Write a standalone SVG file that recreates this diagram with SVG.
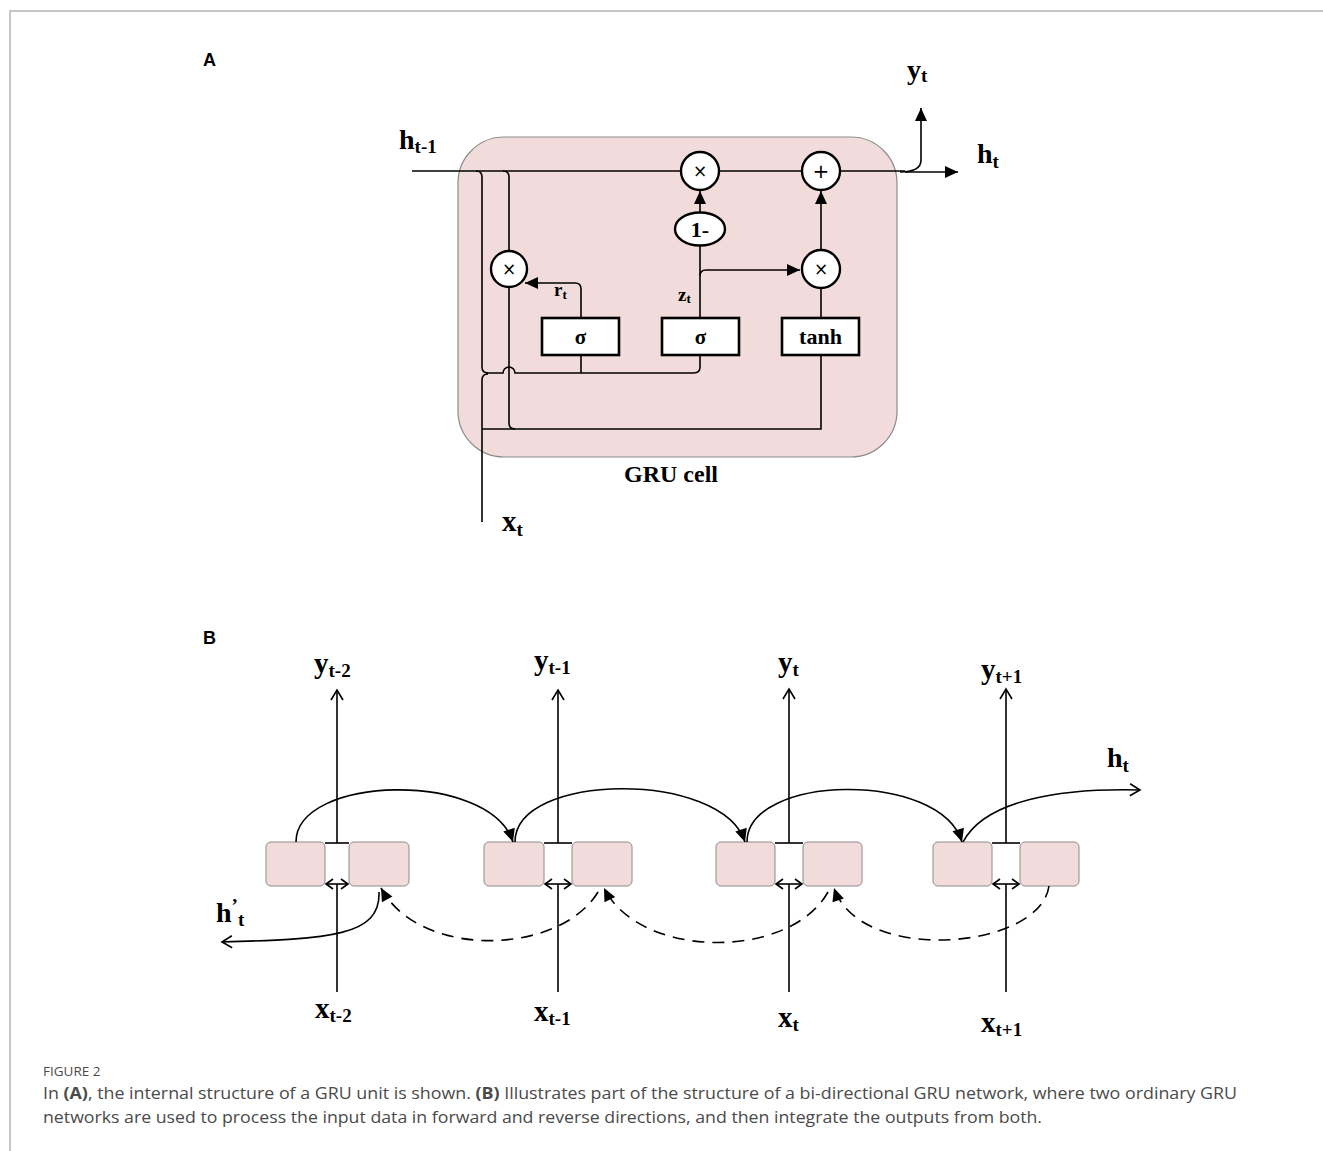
<svg xmlns="http://www.w3.org/2000/svg" width="1323" height="1151" viewBox="0 0 1323 1151">
  <style>
    .ln { fill: none; stroke: #000; stroke-width: 1.6; }
    .dash { fill: none; stroke: #000; stroke-width: 1.6; stroke-dasharray: 12 8; }
    .cell { fill: #f2dcdb; stroke: #8c8c8c; stroke-width: 1.2; }
    .box { fill: #fff; stroke: #000; stroke-width: 2.6; }
    .op { fill: #fff; stroke: #000; stroke-width: 2.4; }
    .bi { fill: #f2dcdb; stroke: #8c8c8c; stroke-width: 1; }
    .lab { font-family: "Liberation Serif", "Times New Roman", serif; font-weight: bold; fill: #000; }
    .sym { font-family: "DejaVu Sans", sans-serif; fill: #000; text-anchor: middle; }
    .panel { font-family: "Liberation Sans", Arial, sans-serif; font-weight: bold; font-size: 18px; fill: #000; }
    .cap { font-family: "Open Sans", "Liberation Sans", sans-serif; fill: #4a4a4a; }
  </style>
  <defs>
    <marker id="fill" markerUnits="userSpaceOnUse" markerWidth="16" markerHeight="16" viewBox="-14 -8 16 16" refX="0" refY="0" orient="auto">
      <path d="M-13,-6 L0,0 L-13,6 Z" fill="#000"/>
    </marker>
    <marker id="open" markerUnits="userSpaceOnUse" markerWidth="16" markerHeight="16" viewBox="-14 -8 16 16" refX="0" refY="0" orient="auto">
      <path d="M-10,-6 L0,0 L-10,6" fill="none" stroke="#000" stroke-width="1.6"/>
    </marker>
    <marker id="openS" markerUnits="userSpaceOnUse" markerWidth="12" markerHeight="12" viewBox="-10 -6 12 12" refX="0" refY="0" orient="auto-start-reverse">
      <path d="M-7,-5 L0,0 L-7,5" fill="none" stroke="#000" stroke-width="1.6"/>
    </marker>
  </defs>

  <rect width="1323" height="1151" fill="#fff"/>
  <!-- page frame -->
  <path d="M10,1151 V11 H1323" fill="none" stroke="#b4b4b4" stroke-width="1.5"/>

  <!-- ============ Panel A: GRU cell ============ -->
  <text class="panel" x="203" y="66">A</text>

  <g id="gru-cell">
    <rect class="cell" x="458" y="137" width="439" height="320" rx="46"/>
    <text class="lab" x="671" y="482" font-size="24" text-anchor="middle">GRU cell</text>
  </g>

  <g id="connectors-a">
    <!-- hidden state path -->
    <path class="ln" d="M412,171 H905" />
    <path class="ln" d="M905,172 H958" marker-end="url(#fill)"/>
    <!-- output branch y_t -->
    <path class="ln" d="M900,172 q21,0 21,-12 V108" marker-end="url(#fill)"/>
    <!-- h(t-1) drops into the cell -->
    <path class="ln" d="M476,171 q6,0 6,6 V367 q0,6 6,6"/>
    <path class="ln" d="M503,171 q6,0 6,6 V250"/>
    <!-- x_t input -->
    <path class="ln" d="M482,522 V380 q0,-6 6,-6"/>
    <!-- gate inputs (hop over r*h line) -->
    <path class="ln" d="M486,373 H503 a6,6 0 0 1 12,0 H694 q6,0 6,-6 V356"/>
    <path class="ln" d="M581,373 V356"/>
    <!-- r*h and x_t to tanh -->
    <path class="ln" d="M509,287 V423 q0,6 6,6"/>
    <path class="ln" d="M482,429 H821 V356"/>
    <!-- reset gate to multiply -->
    <path class="ln" d="M581,317 V289 q0,-6 -6,-6 H525" marker-end="url(#fill)"/>
    <!-- update gate -->
    <path class="ln" d="M700,317 V246"/>
    <path class="ln" d="M700,212 V191" marker-end="url(#fill)"/>
    <path class="ln" d="M700,276 q0,-6 6,-6 H800" marker-end="url(#fill)"/>
    <!-- candidate -->
    <path class="ln" d="M821,317 V288"/>
    <path class="ln" d="M821,250 V191" marker-end="url(#fill)"/>
  </g>

  <g id="mul-reset">
    <circle class="op" cx="509" cy="269" r="18"/>
    <text class="sym" x="509" y="275" font-size="17">×</text>
  </g>
  <g id="mul-keep">
    <circle class="op" cx="700" cy="171" r="19"/>
    <text class="sym" x="700" y="177" font-size="17">×</text>
  </g>
  <g id="add-state">
    <circle class="op" cx="821" cy="171" r="19"/>
    <text class="sym" x="821" y="178" font-size="20">+</text>
  </g>
  <g id="mul-cand">
    <circle class="op" cx="821" cy="269" r="19"/>
    <text class="sym" x="821" y="275" font-size="17">×</text>
  </g>
  <g id="one-minus">
    <ellipse class="op" cx="700" cy="229" rx="25" ry="16.5"/>
    <text class="lab" x="700" y="237" font-size="22" text-anchor="middle">1-</text>
  </g>
  <g id="sigma-r">
    <rect class="box" x="542" y="318" width="77" height="37"/>
    <text class="lab" x="580.5" y="344" font-size="21" text-anchor="middle">σ</text>
  </g>
  <g id="sigma-z">
    <rect class="box" x="662" y="318" width="77" height="37"/>
    <text class="lab" x="700.5" y="344" font-size="21" text-anchor="middle">σ</text>
  </g>
  <g id="tanh">
    <rect class="box" x="782" y="318" width="77" height="37"/>
    <text class="lab" x="820.5" y="344" font-size="22" text-anchor="middle">tanh</text>
  </g>

  <g id="labels-a">
    <text class="lab" x="399" y="149" font-size="28">h<tspan font-size="19" dy="4">t-1</tspan></text>
    <text class="lab" x="907" y="79" font-size="28">y<tspan font-size="19" dy="3">t</tspan></text>
    <text class="lab" x="977" y="163" font-size="28">h<tspan font-size="19" dy="5">t</tspan></text>
    <text class="lab" x="554" y="296" font-size="19">r<tspan font-size="13" dy="3">t</tspan></text>
    <text class="lab" x="678" y="301" font-size="19">z<tspan font-size="13" dy="2">t</tspan></text>
    <text class="lab" x="502" y="531" font-size="29">x<tspan font-size="19" dy="5">t</tspan></text>
  </g>

  <!-- ============ Panel B: bi-directional GRU ============ -->
  <text class="panel" x="203" y="644">B</text>

  <g id="step-t-2">
    <rect class="bi" x="266" y="842" width="59" height="44" rx="5"/>
    <rect class="bi" x="349" y="842" width="60" height="44" rx="5"/>
    <path class="ln" d="M325,843 H349"/>
  </g>
  <g id="step-t-1">
    <rect class="bi" x="484" y="842" width="60" height="44" rx="5"/>
    <rect class="bi" x="572" y="842" width="60" height="44" rx="5"/>
    <path class="ln" d="M544,843 H572"/>
  </g>
  <g id="step-t">
    <rect class="bi" x="716" y="842" width="59" height="44" rx="5"/>
    <rect class="bi" x="803" y="842" width="59" height="44" rx="5"/>
    <path class="ln" d="M775,843 H803"/>
  </g>
  <g id="step-t+1">
    <rect class="bi" x="933" y="842" width="59" height="44" rx="5"/>
    <rect class="bi" x="1020" y="842" width="59" height="44" rx="5"/>
    <path class="ln" d="M992,843 H1020"/>
  </g>

  <g id="connectors-b">
    <!-- outputs -->
    <path class="ln" d="M337,843 V690" marker-end="url(#open)"/>
    <path class="ln" d="M558,843 V690" marker-end="url(#open)"/>
    <path class="ln" d="M789,843 V689" marker-end="url(#open)"/>
    <path class="ln" d="M1006,843 V689" marker-end="url(#open)"/>
    <!-- inputs -->
    <path class="ln" d="M337,992 V884"/>
    <path class="ln" d="M558,992 V884"/>
    <path class="ln" d="M789,992 V884"/>
    <path class="ln" d="M1006,992 V884"/>
    <!-- input split to both directions -->
    <path class="ln" d="M326,884 H348" marker-start="url(#openS)" marker-end="url(#openS)"/>
    <path class="ln" d="M545,884 H571" marker-start="url(#openS)" marker-end="url(#openS)"/>
    <path class="ln" d="M776,884 H802" marker-start="url(#openS)" marker-end="url(#openS)"/>
    <path class="ln" d="M993,884 H1019" marker-start="url(#openS)" marker-end="url(#openS)"/>
    <!-- forward recurrence -->
    <path class="ln" d="M296,842 C296,775 490,770 513,842" marker-end="url(#fill)"/>
    <path class="ln" d="M515,842 C515,772 722,770 745,842" marker-end="url(#fill)"/>
    <path class="ln" d="M747,842 C747,774 940,770 962,842" marker-end="url(#fill)"/>
    <path class="ln" d="M963,842 C985,800 1060,788 1140,790" marker-end="url(#open)"/>
    <!-- backward recurrence -->
    <path class="dash" d="M1049,886 C1040,950 860,965 834,888" marker-end="url(#fill)"/>
    <path class="dash" d="M828,892 C790,960 640,960 604,888" marker-end="url(#fill)"/>
    <path class="dash" d="M598,892 C560,955 420,960 381,888" marker-end="url(#fill)"/>
    <path class="ln" d="M379,892 C381,936 330,939 222,942" marker-end="url(#open)"/>
  </g>

  <g id="labels-b">
    <text class="lab" x="314" y="673" font-size="29">y<tspan font-size="19" dy="4">t-2</tspan></text>
    <text class="lab" x="534" y="670" font-size="29">y<tspan font-size="19" dy="4">t-1</tspan></text>
    <text class="lab" x="778" y="672" font-size="29">y<tspan font-size="19" dy="4">t</tspan></text>
    <text class="lab" x="981" y="679" font-size="29">y<tspan font-size="19" dy="4">t+1</tspan></text>
    <text class="lab" x="1107" y="767" font-size="28">h<tspan font-size="19" dy="5">t</tspan></text>
    <text class="lab" x="216" y="922" font-size="28">h<tspan font-size="19" dy="-10">’</tspan><tspan font-size="19" dy="14">t</tspan></text>
    <text class="lab" x="315" y="1018" font-size="29">x<tspan font-size="19" dy="4">t-2</tspan></text>
    <text class="lab" x="534" y="1021" font-size="29">x<tspan font-size="19" dy="4">t-1</tspan></text>
    <text class="lab" x="778" y="1027" font-size="29">x<tspan font-size="19" dy="4">t</tspan></text>
    <text class="lab" x="981" y="1032" font-size="29">x<tspan font-size="19" dy="4">t+1</tspan></text>
  </g>

  <!-- caption -->
  <g id="caption">
    <text class="cap" x="43" y="1076" font-size="13.5" fill="#6a6a6a">FIGURE 2</text>
    <text class="cap" x="43" y="1099" font-size="16" textLength="1194" lengthAdjust="spacingAndGlyphs">In <tspan font-weight="bold">(A)</tspan>, the internal structure of a GRU unit is shown. <tspan font-weight="bold">(B)</tspan> Illustrates part of the structure of a bi-directional GRU network, where two ordinary GRU</text>
    <text class="cap" x="43" y="1123" font-size="16" textLength="999" lengthAdjust="spacingAndGlyphs">networks are used to process the input data in forward and reverse directions, and then integrate the outputs from both.</text>
  </g>
</svg>
